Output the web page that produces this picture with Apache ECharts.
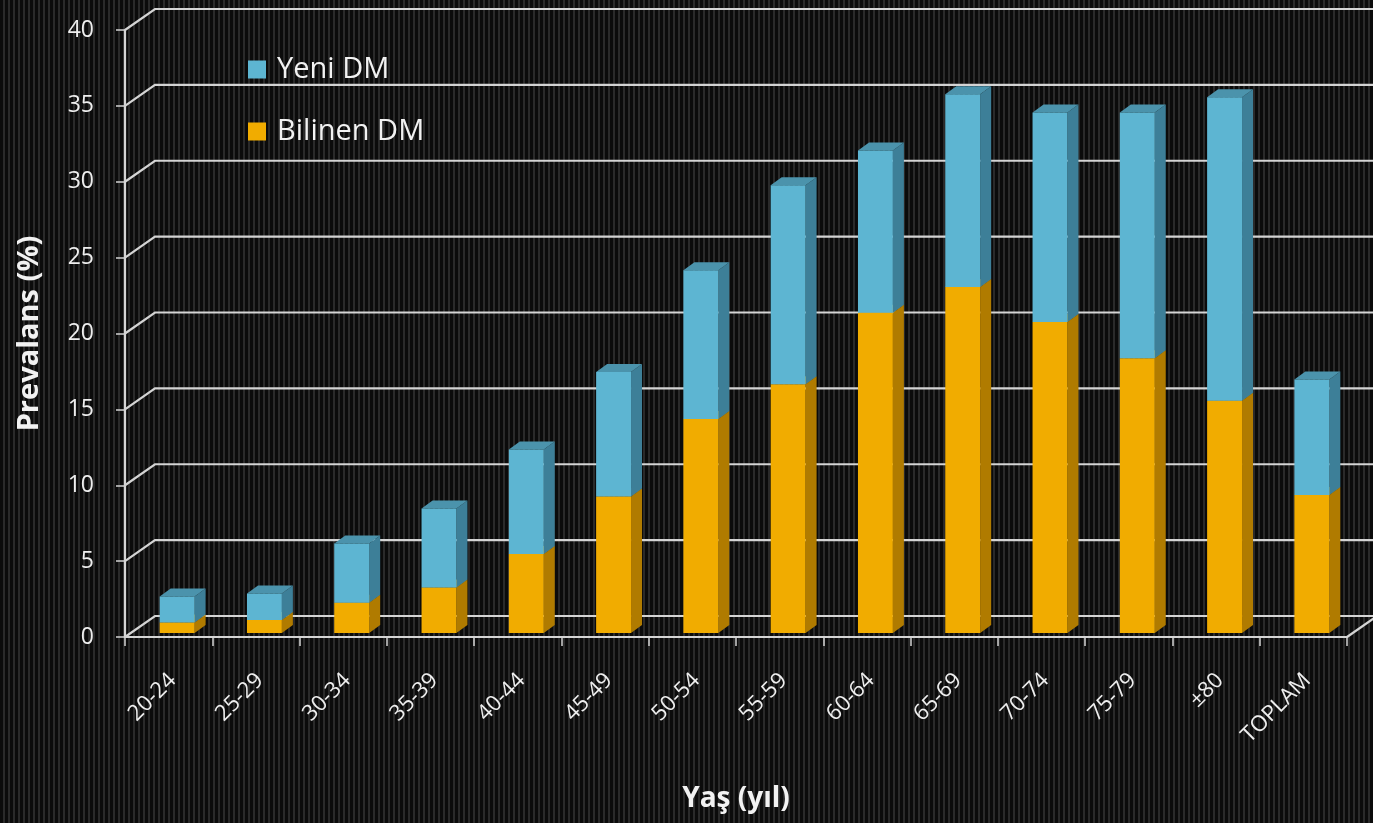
<!DOCTYPE html>
<html>
<head>
<meta charset="utf-8">
<title>Prevalans</title>
<script src="https://cdn.jsdelivr.net/npm/echarts@6/dist/echarts.min.js"></script>
<style>
  html, body { margin: 0; padding: 0; }
  body {
    width: 1373px; height: 823px; overflow: hidden;
    background: repeating-linear-gradient(to right, #0b0b0b 0px, #0b0b0b 3px, #2a2a2a 3px, #2a2a2a 5px);
  }
  #chart { width: 1373px; height: 823px; }
</style>
</head>
<body>
<div id="chart"></div>
<script>
// Age groups on the category axis
const ageGroups = ['20-24', '25-29', '30-34', '35-39', '40-44', '45-49', '50-54',
                   '55-59', '60-64', '65-69', '70-74', '75-79', '±80', 'TOPLAM'];
// Known diabetes (lower segment), %
const bilinenDM = [0.7, 0.85, 2.0, 3.0, 5.2, 9.0, 14.1, 16.4, 21.1, 22.8, 20.5, 18.1, 15.3, 9.1];
// Newly diagnosed diabetes (upper segment), %
const yeniDM = [1.7, 1.75, 3.9, 5.2, 6.9, 8.2, 9.8, 13.1, 10.7, 12.7, 13.8, 16.2, 20.0, 7.6];
// Value-axis ticks
const yTicks = [0, 5, 10, 15, 20, 25, 30, 35, 40];

// Pseudo-3D geometry (pixels)
const WALL_DX = 30, WALL_DY = -21;         // depth of the back wall
const BAR_SHIFT_X = 8.5, BAR_SHIFT_Y = -4; // bar front face placement inside the floor
const BAR_DX = 11, BAR_DY = -8;            // bar depth
const BAR_RATIO = 0.4;                     // front-face width / band width
const LINE_COLOR = '#d4d4d4';
const FONT = '"Open Sans", "DejaVu Sans", sans-serif';

const COLORS = {
  bilinen: { front: '#F1AC00', side: '#B07B00', top: '#D29500' },
  yeni:    { front: '#5DB5D2', side: '#3D7F98', top: '#4B93AC' }
};

function barRenderer(c) {
  return function (params, api) {
    const i = api.value(0), lo = api.value(1), hi = api.value(2);
    const pLo = api.coord([i, lo]);
    const pHi = api.coord([i, hi]);
    const band = api.size([1, 0])[0];
    const w = band * BAR_RATIO;
    const x0 = pLo[0] + BAR_SHIFT_X - w / 2, x1 = x0 + w;
    const yb = pLo[1] + BAR_SHIFT_Y, yt = pHi[1] + BAR_SHIFT_Y;
    return {
      type: 'group',
      children: [
        { type: 'polygon',
          shape: { points: [[x1, yb], [x1 + BAR_DX, yb + BAR_DY], [x1 + BAR_DX, yt + BAR_DY], [x1, yt]] },
          style: { fill: c.side } },
        { type: 'polygon',
          shape: { points: [[x0, yt], [x1, yt], [x1 + BAR_DX, yt + BAR_DY], [x0 + BAR_DX, yt + BAR_DY]] },
          style: { fill: c.top } },
        { type: 'rect',
          shape: { x: x0, y: yt, width: w, height: yb - yt },
          style: { fill: c.front } }
      ]
    };
  };
}

// Back wall grid lines with their diagonal links to the front axis
function wallRenderer(params, api) {
  const v = api.value(1);
  const p = api.coord([0, v]);
  const band = api.size([1, 0])[0];
  const xl = p[0] - band / 2;
  const xr = api.coord([ageGroups.length - 1, v])[0] + band / 2;
  const style = { stroke: LINE_COLOR, lineWidth: 2.2, fill: null };
  const children = [{
    type: 'polyline',
    shape: { points: [[xl, p[1]], [xl + WALL_DX, p[1] + WALL_DY], [api.getWidth(), p[1] + WALL_DY]] },
    style: style
  }];
  if (v === 0) {
    children.push({ type: 'line',
      shape: { x1: xr, y1: p[1], x2: xr + WALL_DX, y2: p[1] + WALL_DY }, style: style });
  }
  return { type: 'group', children: children };
}

const chart = echarts.init(document.getElementById('chart'), null, { renderer: 'canvas' });

chart.setOption({
  backgroundColor: 'transparent',
  animation: false,
  textStyle: { fontFamily: FONT },
  legend: {
    data: ['Yeni DM', 'Bilinen DM'],
    orient: 'vertical',
    left: 243, top: 50,
    itemWidth: 18, itemHeight: 18, itemGap: 33,
    icon: 'rect',
    textStyle: { color: '#f2f2f2', fontSize: 29, fontFamily: FONT, padding: [0, 0, 0, 6] }
  },
  grid: [
    { left: 125, top: 30, width: 1222, height: 607, outerBoundsMode: 'none', containLabel: false },
    { left: 129, top: 30, width: 1222, height: 607, outerBoundsMode: 'none', containLabel: false }
  ],
  xAxis: [
    {
      type: 'category', gridIndex: 0, data: ageGroups,
      axisLine: { show: true, lineStyle: { color: LINE_COLOR, width: 2.2 } },
      axisTick: { show: true, length: 9, lineStyle: { color: LINE_COLOR, width: 1.5 } },
      axisLabel: { show: false },
      name: 'Yaş (yıl)', nameLocation: 'middle', nameGap: 148,
      nameTextStyle: { color: '#f2f2f2', fontSize: 28, fontWeight: 'bold', fontFamily: FONT }
    },
    {
      type: 'category', gridIndex: 1, data: ageGroups,
      axisLine: { show: false }, axisTick: { show: false },
      axisLabel: { show: true, rotate: 45, margin: 40, color: '#eeeeee', fontSize: 22, fontFamily: FONT, interval: 0 }
    }
  ],
  yAxis: [
    {
      type: 'value', gridIndex: 0, min: 0, max: 40, interval: 5,
      axisLine: { show: true, lineStyle: { color: LINE_COLOR, width: 2.2 } },
      axisTick: { show: true, length: 9, lineStyle: { color: LINE_COLOR, width: 1.5 } },
      axisLabel: { color: '#eeeeee', fontSize: 23, margin: 31, fontFamily: FONT },
      splitLine: { show: false },
      name: 'Prevalans (%)', nameLocation: 'middle', nameGap: 81,
      nameTextStyle: { color: '#f2f2f2', fontSize: 29, fontWeight: 'bold', fontFamily: FONT }
    },
    { type: 'value', gridIndex: 1, min: 0, max: 40, show: false }
  ],
  series: [
    {
      name: 'wall', type: 'custom', xAxisIndex: 0, yAxisIndex: 0,
      silent: true, clip: false, z: 1,
      renderItem: wallRenderer,
      encode: { x: 0, y: 1 },
      data: yTicks.map(v => [0, v])
    },
    {
      name: 'Bilinen DM', type: 'custom', xAxisIndex: 0, yAxisIndex: 0,
      clip: false, z: 3,
      itemStyle: { color: COLORS.bilinen.front },
      renderItem: barRenderer(COLORS.bilinen),
      encode: { x: 0, y: [1, 2] },
      data: bilinenDM.map((v, i) => [i, 0, v])
    },
    {
      name: 'Yeni DM', type: 'custom', xAxisIndex: 0, yAxisIndex: 0,
      clip: false, z: 4,
      itemStyle: { color: COLORS.yeni.front },
      renderItem: barRenderer(COLORS.yeni),
      encode: { x: 0, y: [1, 2] },
      data: yeniDM.map((v, i) => [i, bilinenDM[i], bilinenDM[i] + v])
    }
  ]
});
</script>
</body>
</html>
